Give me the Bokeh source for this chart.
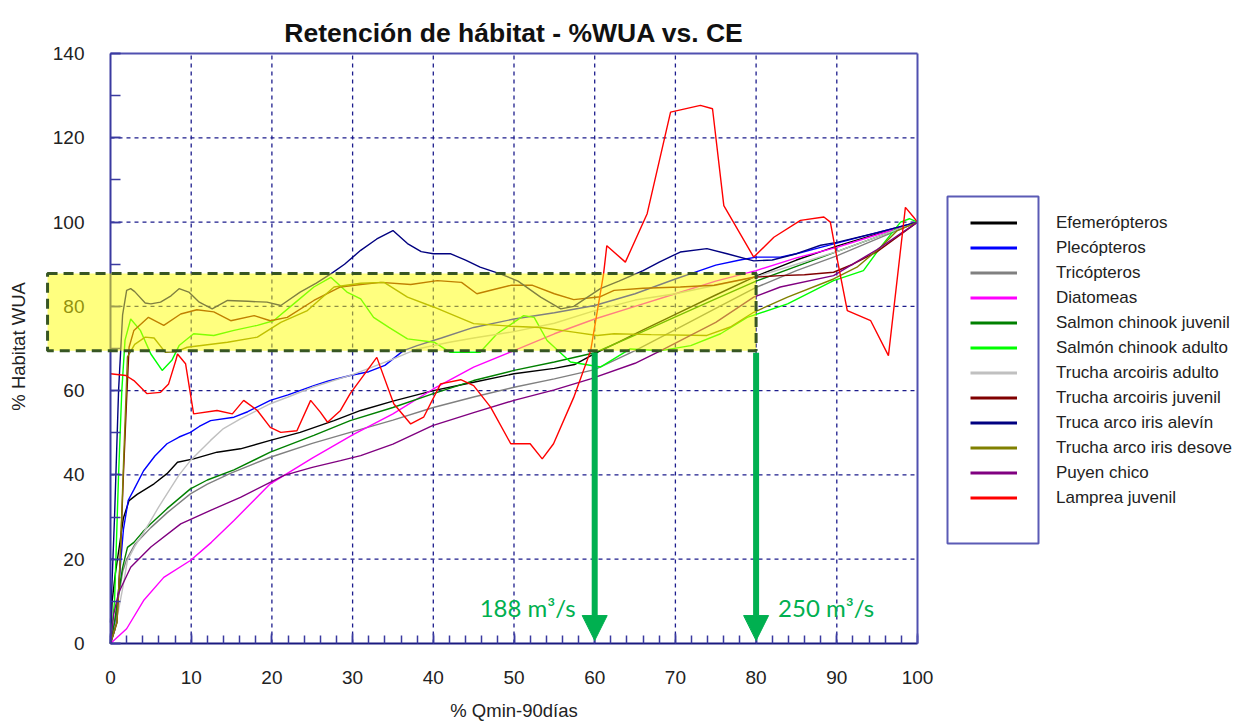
import math
from bokeh.plotting import figure
from bokeh.layouts import row
from bokeh.models import (Range1d, SingleIntervalTicker, FixedTicker, LinearAxis, Legend,
                          LegendItem, BoxAnnotation, Arrow, NormalHead, Label)
from bokeh.embed import file_html
from bokeh.resources import INLINE

# ---------------- data ----------------
series_names = ["Efemerópteros", "Plecópteros", "Tricópteros", "Diatomeas",
                "Salmon chinook juvenil", "Salmón chinook adulto",
                "Trucha arcoiris adulto", "Trucha arcoiris juvenil",
                "Truca arco iris alevín", "Trucha arco iris desove",
                "Puyen chico", "Lamprea juvenil"]
series_colors = ["#000000", "#0000ff", "#808080", "#ff00ff", "#008000", "#00ff00",
                 "#c0c0c0", "#800000", "#000080", "#808000", "#800080", "#ff0000"]

efe_x = [0, 0.2, 0.6, 1.2, 1.6, 2.3, 3.3, 5.4, 7, 8.3, 10.3, 13.2, 16.1, 19.8, 23.5, 27.7, 31, 35, 40, 45, 50, 55, 57.5, 60, 63, 66, 70, 75, 80, 85, 90, 95, 100]
efe_y = [0, 10, 16.6, 24.4, 29.8, 33.9, 35.4, 37.9, 40.3, 43, 43.8, 45.4, 46.2, 48.2, 50.1, 52.9, 55.3, 57.5, 60, 62, 64, 65.3, 66.2, 68.8, 71.6, 74.4, 78.1, 82.7, 87.2, 91, 94.3, 97.2, 100]

ple_x = [0, 0.5, 0.9, 1.2, 1.6, 2.2, 2.9, 4.1, 5.5, 7, 8.5, 9.9, 11, 12.4, 15.3, 17, 19.8, 22, 25.2, 27, 29.7, 32, 34, 36.3, 38, 41, 45, 50, 55, 60, 65, 70, 72.3, 75, 78, 80, 83, 85, 88, 90, 95, 100]
ple_y = [0, 3, 10, 18, 27, 34, 36.5, 41, 44.5, 47.4, 49, 50.1, 51.5, 52.9, 53.7, 55, 57.7, 59, 61.2, 62.3, 63.6, 64.5, 66, 69.5, 70.7, 72.5, 75, 77, 78.5, 80.2, 83, 86.5, 88, 89.8, 91, 91.7, 91.7, 92.5, 94, 95, 97.5, 100]

tri_x = [0, 0.5, 1, 1.5, 2, 3, 5, 7, 9.9, 12, 15, 19.8, 25, 29.7, 35, 40, 45, 50, 55, 60, 65, 70, 75, 80, 85, 90, 95, 100]
tri_y = [0, 5, 11, 17, 20, 23.5, 27.5, 31, 35.5, 37.8, 40.5, 44.2, 47.5, 50.1, 53, 56, 58.5, 60.8, 62.8, 65, 69.5, 74.5, 79.5, 84.5, 88.5, 92, 96, 100]

dia_x = [0, 2, 4.1, 6.6, 9.9, 12.5, 15.3, 19.8, 25, 30, 35, 40, 45, 50, 55, 60, 65, 70, 75, 80, 85, 90, 95, 100]
dia_y = [0, 3.5, 10.2, 15.7, 19.7, 24, 29.2, 37.9, 44, 49.5, 54.5, 60.4, 65.6, 69.5, 73.5, 77, 80, 83, 86, 88.5, 91.5, 94, 97, 100]

scj_x = [0, 0.5, 1, 1.5, 2.1, 2.9, 4, 5, 7, 9.9, 12, 15.3, 19.8, 25.2, 29.7, 35, 40, 45, 50, 55, 60, 65, 70, 75, 80, 85, 90, 95, 100]
scj_y = [0, 5, 12, 18, 22.8, 24, 26.5, 28.4, 32, 36.7, 38.8, 41.2, 45.4, 49.4, 52.9, 56, 59.3, 62.4, 64.8, 66.8, 69, 73.2, 77.5, 81.8, 86, 89.5, 93, 96.5, 100]

sca_x = [0, 0.5, 1, 1.4, 1.8, 2.5, 3.7, 5, 6.4, 7.6, 8.5, 10.3, 12.8, 15.3, 18.2, 20.2, 22.7, 25.2, 27.3, 29.3, 31, 32.6, 34.5, 36.8, 40.1, 42.1, 45.8, 47.9, 51.2, 52.5, 54.1, 57, 60.7, 64.4, 68.2, 71.9, 75.6, 78.9, 83.9, 89.6, 93.3, 95.4, 97.9, 99, 100]
sca_y = [0, 10, 40, 60, 72, 77, 74.3, 68.7, 64.8, 67.2, 70.7, 73.5, 73.1, 74.3, 75.5, 76.6, 80.6, 84.6, 86.9, 83.4, 81.8, 77.4, 75, 72.3, 71.5, 69.1, 69.1, 73.5, 77.8, 77.4, 71.9, 66.8, 65.6, 69.9, 69.5, 70.7, 73.5, 77.4, 80.6, 86.1, 88.5, 94, 100, 100.8, 100]

taa_x = [0, 0.5, 1, 1.5, 2.1, 3, 4, 5, 6, 7, 8.5, 9.9, 12.4, 14, 16.1, 19.8, 22, 25, 30, 35, 38, 42, 45, 50, 55, 60, 65, 70, 75, 80, 85, 90, 95, 100]
taa_y = [0, 3, 8, 13, 19.7, 23, 26, 29.2, 32.5, 35.5, 40, 43.4, 48.2, 51, 53.3, 56.9, 58.5, 60.8, 63.8, 67.5, 69.9, 71.5, 72.5, 74, 76, 79, 81.5, 83, 85, 87, 90, 93, 96.5, 100]

taj_x = [0, 0.8, 1.2, 1.6, 2.0, 2.3, 2.9, 4.7, 6.6, 8.7, 10.7, 12.8, 14.9, 17.8, 19.8, 21.9, 25.2, 28.5, 31, 33.5, 37.2, 40.5, 43.5, 45.4, 47.5, 49.6, 52.3, 55, 57.4, 60.7, 62.4, 66, 70.6, 74.8, 79.7, 83, 86, 89.6, 92, 95, 100]
taj_y = [0, 5, 20, 40, 58, 70.3, 74.3, 77.4, 75.5, 78.2, 79.2, 78.7, 76.6, 77.8, 76.6, 77.4, 81.4, 84.6, 85.2, 85.7, 85.2, 86.1, 85.7, 83, 84, 85, 85, 83, 81.6, 82.3, 83.8, 84.3, 84.6, 85, 86.9, 87.3, 87.5, 88.1, 90, 93, 100]

tal_x = [0, 0.5, 1, 1.5, 2, 2.5, 3, 4.3, 5, 6.2, 7.5, 8.5, 9.7, 11, 12.6, 14.5, 17, 19.4, 21.1, 23.5, 25.5, 27.3, 29, 31, 33, 35, 36.8, 38.5, 40, 42.1, 44, 45.8, 48.3, 50.5, 53.3, 55.8, 57.4, 60.7, 63, 66, 68, 70.6, 73.9, 76.4, 79.7, 82, 85, 88, 90, 95, 100]
tal_y = [5, 30, 60, 78, 83.8, 84.2, 83.5, 80.8, 80.6, 81, 82.5, 84.2, 83.4, 81, 79.4, 81.4, 81.2, 81, 80.2, 83.4, 85.5, 87.7, 90, 93.3, 96, 98, 94.9, 93, 92.5, 92.5, 91, 89.3, 87.7, 86, 82.2, 79.4, 80, 84.2, 86, 88.5, 90.5, 92.9, 93.7, 92.5, 90.8, 91, 92.5, 94.5, 95.2, 97.5, 100]

tad_x = [0, 0.8, 1.2, 1.6, 2.1, 3, 4.3, 5.4, 6.8, 8.1, 9.5, 14.5, 18.2, 21.1, 24.4, 27.7, 31, 33.9, 36.8, 40.1, 45, 49.6, 53.3, 57.4, 60.3, 62.4, 67, 73.9, 76.8, 79.7, 83.9, 89.6, 92.5, 95.4, 97.5, 100]
tad_y = [0, 5, 20, 42, 68, 71, 72.7, 72.5, 69.1, 69.2, 70.3, 71.5, 72.7, 76.2, 79, 84.6, 85.5, 85.7, 82.2, 79.8, 75.9, 75.3, 75, 73.9, 73.1, 73.5, 73.3, 73.1, 75.1, 78.6, 82.2, 86.5, 89.3, 94, 98, 100]

puy_x = [0, 0.4, 1, 2.5, 5, 8.7, 12.4, 16.1, 21.5, 25, 28.5, 31, 35, 39.9, 45, 50, 55, 59.5, 65, 68.2, 75, 79.7, 83, 89.6, 95, 100]
puy_y = [0, 7, 12, 18.1, 22.9, 28.4, 31.6, 34.7, 39.9, 41.8, 43.4, 44.6, 47.3, 51.7, 54.8, 57.7, 60.2, 62.8, 66.5, 69.5, 76.2, 82.2, 84.6, 87.3, 93.5, 100]

lam_x = [0, 1.9, 2.9, 4.5, 6.2, 7.2, 8.1, 8.3, 9.3, 10.3, 13.2, 15.1, 16.5, 18.2, 19.8, 21.1, 23.1, 24.8, 26, 26.9, 28.5, 29.7, 33, 35.1, 37.2, 38.8, 40.9, 43.4, 45, 47.1, 49.6, 52, 53.5, 54.9, 57.4, 59.5, 61.1, 61.5, 63.8, 66.5, 69.4, 73.1, 74.6, 76, 79.7, 82.2, 85.5, 88.4, 89.2, 90, 91.3, 94.2, 96.4, 98.5, 99.5, 100]
lam_y = [64, 63.6, 62.4, 59.3, 59.6, 61.6, 67.2, 68.7, 66.4, 54.5, 55.3, 54.5, 57.7, 55.3, 51.3, 50.1, 50.5, 57.7, 54.9, 52.5, 55.3, 59.3, 67.9, 56.9, 52.1, 53.7, 61.6, 62.6, 61.2, 56.1, 47.4, 47.4, 43.8, 47.4, 58.4, 69.5, 87.7, 94.4, 90.5, 102, 126.1, 127.7, 126.9, 103.9, 91.7, 96.4, 100.4, 101.2, 100, 91.7, 79, 76.6, 68.3, 103.5, 101.2, 100]

series_x = [efe_x, ple_x, tri_x, dia_x, scj_x, sca_x, taa_x, taj_x, tal_x, tad_x, puy_x, lam_x]
series_y = [efe_y, ple_y, tri_y, dia_y, scj_y, sca_y, taa_y, taj_y, tal_y, tad_y, puy_y, lam_y]

x_ticks = [0, 10, 20, 30, 40, 50, 60, 70, 80, 90, 100]
y_ticks = [0, 20, 40, 60, 80, 100, 120, 140]

title_text = "Retención de hábitat - %WUA vs. CE"
x_label = "% Qmin-90días"
y_label = "% Habitat WUA"

# highlighted band and flow markers
band_y = [69.5, 87.8]
band_x = [-7.8, 80]
flow_x = [60, 80]
flow_labels = ["188 m³/s", "250 m³/s"]

# ---------------- main figure ----------------
FONT = "Liberation Sans"
AXC = "#3a3aa0"
FRAME = "#5050b0"
GRN = "#00b050"
GRID = "#1c1c8c"
TXT = "#222222"

W, H = 935, 721
PX_X = 8.07    # pixels per x unit
PX_Y = 4.214   # pixels per y unit
X_ORIG, Y_ORIG = 110, 643   # pixel position of the (0, 0) corner

p = figure(width=W, height=H,
           x_range=Range1d(-X_ORIG / PX_X, (W - X_ORIG) / PX_X),
           y_range=Range1d(-(H - Y_ORIG) / PX_Y, Y_ORIG / PX_Y),
           output_backend="svg", toolbar_location=None, min_border=0)
p.background_fill_color = "white"
p.border_fill_color = "white"
p.outline_line_color = None
p.xgrid.visible = False
p.ygrid.visible = False

p.xaxis.ticker = SingleIntervalTicker(interval=10, num_minor_ticks=5)
p.yaxis.ticker = SingleIntervalTicker(interval=20, num_minor_ticks=2)
p.xaxis.bounds = (x_ticks[0], x_ticks[-1])
p.yaxis.bounds = (y_ticks[0], y_ticks[-1])
p.xaxis.fixed_location = 0
p.yaxis.fixed_location = 0
for ax in (p.xaxis, p.yaxis):
    ax.axis_line_color = AXC
    ax.axis_line_width = 2
    ax.major_tick_line_color = AXC
    ax.minor_tick_line_color = AXC
    ax.major_tick_line_width = 1.5
    ax.minor_tick_line_width = 1.5
    ax.major_tick_in = 10
    ax.major_tick_out = 0
    ax.minor_tick_in = 8
    ax.minor_tick_out = 0
    ax.major_label_text_font = FONT
    ax.major_label_text_font_size = "19px"
    ax.major_label_text_color = TXT
p.yaxis.minor_tick_in = 10
p.xaxis.axis_line_color = "#1a1a80"
p.xaxis.major_label_standoff = 27
p.yaxis.major_label_standoff = 26

# frame lines on top and right (axes without ticks)
top_ax = LinearAxis(fixed_location=y_ticks[-1], bounds=(x_ticks[0], x_ticks[-1]),
                    ticker=FixedTicker(ticks=[]), axis_line_color=FRAME, axis_line_width=2)
right_ax = LinearAxis(fixed_location=x_ticks[-1], bounds=(y_ticks[0], y_ticks[-1]),
                      ticker=FixedTicker(ticks=[]), axis_line_color=FRAME, axis_line_width=2)
p.add_layout(top_ax, "above")
p.add_layout(right_ax, "right")

# dashed grid restricted to the data area
vx = x_ticks[1:-1]
hy = y_ticks[1:-1]
p.segment(x0=vx, x1=vx, y0=[y_ticks[0]] * len(vx), y1=[y_ticks[-1]] * len(vx),
          line_color=GRID, line_width=1.3, line_dash="4 4", level="underlay")
p.segment(x0=[x_ticks[0]] * len(hy), x1=[x_ticks[-1]] * len(hy), y0=hy, y1=hy,
          line_color=GRID, line_width=1.3, line_dash="4 4", level="underlay")

for col, xs, ys in zip(series_colors, series_x, series_y):
    p.line(xs, ys, line_color=col, line_width=1.4)

# highlighted band
p.add_layout(BoxAnnotation(left=band_x[0], right=band_x[1], bottom=band_y[0], top=band_y[1],
                           fill_color="#ffff00", fill_alpha=0.5,
                           line_color="#375623", line_alpha=1, line_width=3, line_dash="10 6"))

# arrows and flow labels
for i, fx in enumerate(flow_x):
    p.add_layout(Arrow(end=NormalHead(size=25, fill_color=GRN, line_color=GRN, line_width=1),
                       x_start=fx, y_start=band_y[0] - 0.5, x_end=fx, y_end=0.7,
                       line_color=GRN, line_width=6))
    first = i == 0
    p.add_layout(Label(x=fx, y=8.6, text=flow_labels[i],
                       x_offset=-19 if first else 22,
                       text_align="right" if first else "left",
                       text_baseline="middle", text_font="Lato",
                       text_font_size="24px", text_color=GRN))

# title and axis titles
p.add_layout(Label(x=50, y=(Y_ORIG - 32) / PX_Y, text=title_text, text_align="center",
                   text_baseline="alphabetic", text_font=FONT, text_font_size="26.5px",
                   text_font_style="bold", text_color="#111111"))
p.add_layout(Label(x=50, y=-(710 - Y_ORIG) / PX_Y, text=x_label, text_align="center",
                   text_baseline="middle", text_font=FONT, text_font_size="18.5px",
                   text_color=TXT))
p.add_layout(Label(x=-(X_ORIG - 18) / PX_X, y=70.5, text=y_label, angle=math.pi / 2,
                   text_align="center", text_baseline="middle", text_font=FONT,
                   text_font_size="18.5px", text_color=TXT))

# ---------------- legend panel ----------------
q = figure(width=1239 - W, height=H, x_range=Range1d(W, 1239), y_range=Range1d(H, 0),
           x_axis_type=None, y_axis_type=None, output_backend="svg", toolbar_location=None,
           min_border=0, outline_line_color=None)
q.background_fill_color = "white"
q.border_fill_color = "white"
q.xgrid.visible = False
q.ygrid.visible = False

items = []
for name, col, xs, ys in zip(series_names, series_colors, series_x, series_y):
    # proxy renderer for the legend sample (its data lies outside this panel's view)
    proxy = q.line(xs, ys, line_color=col, line_width=3)
    items.append(LegendItem(label=name, renderers=[proxy]))

legend = Legend(items=items, location=(35, 211), orientation="vertical",
                glyph_width=47, glyph_height=25, label_height=25, label_standoff=39,
                spacing=0, padding=0, margin=0, border_line_color=None,
                background_fill_alpha=0, label_text_font=FONT,
                label_text_font_size="17px", label_text_color=TXT,
                label_text_baseline="middle")
q.add_layout(legend)
q.add_layout(BoxAnnotation(left=947, right=1038, top=196, bottom=543,
                           fill_alpha=0, line_color="#5b5bb5", line_alpha=1, line_width=2))

layout = row(p, q)
open("out.html", "w").write(file_html(layout, INLINE))
